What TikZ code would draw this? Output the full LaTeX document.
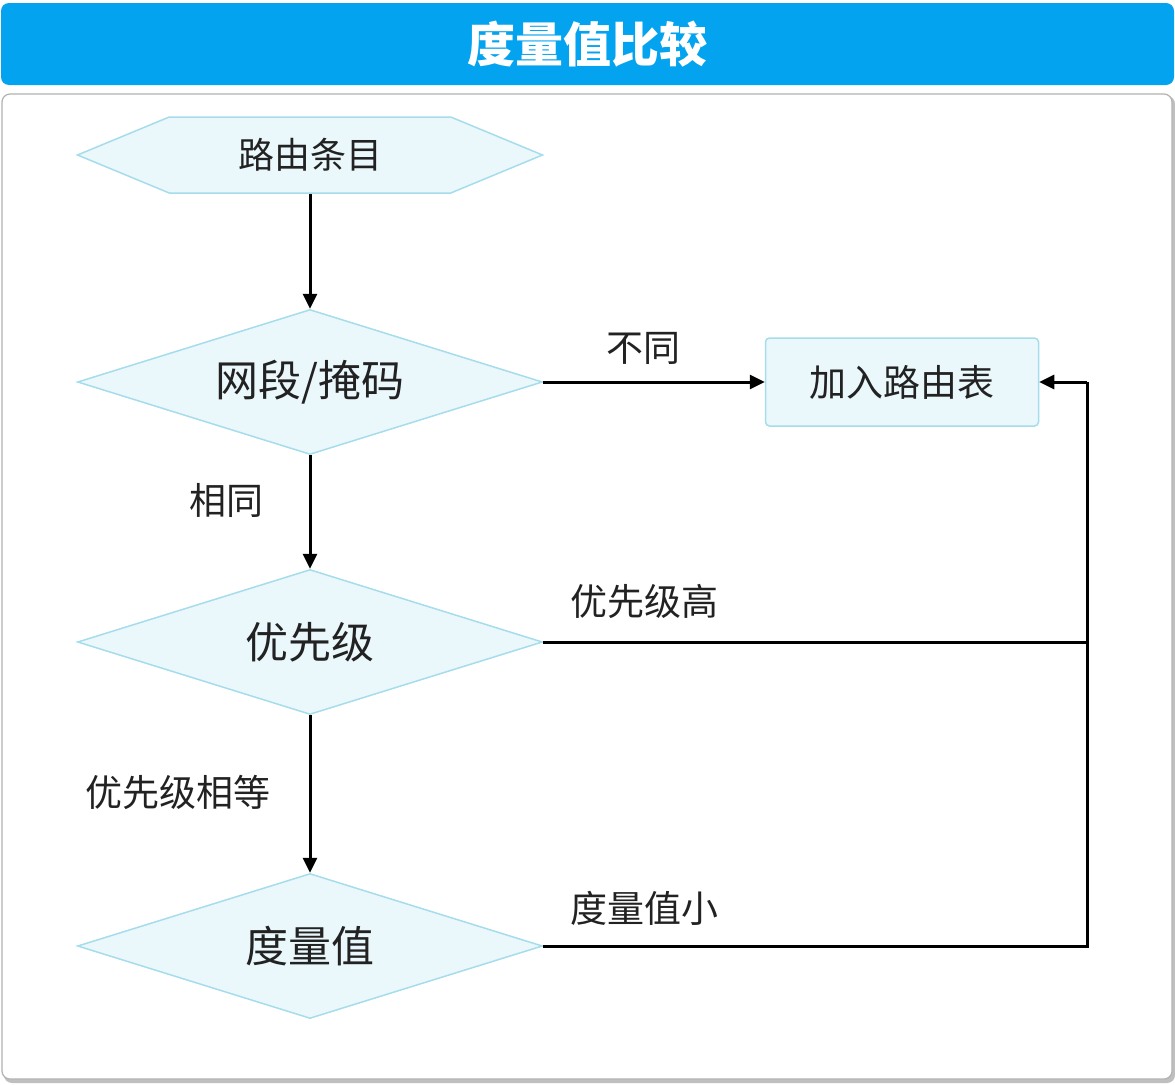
\documentclass[tikz,border=0pt]{standalone}
\usepackage{fontspec}
\setmainfont{Noto Sans CJK SC}
\usetikzlibrary{shapes.geometric,shapes.symbols,arrows.meta}
\definecolor{titleblue}{HTML}{03A3EF}
\definecolor{shapefill}{HTML}{EAF8FC}
\definecolor{shapeline}{HTML}{A6DCEB}
\definecolor{txt}{HTML}{222222}
\tikzset{
  hexbox/.style={signal, signal to=east and west, signal pointer angle=45, draw=shapeline, line width=1.5pt, fill=shapefill, minimum width=465pt, minimum height=76pt, inner sep=0pt, font=\fontsize{36}{40}\selectfont, text=txt},
  decbox/.style={diamond, aspect=3.2, draw=shapeline, line width=1.5pt, fill=shapefill, minimum width=465pt, minimum height=145pt, inner sep=0pt, font=\fontsize{43}{47}\selectfont, text=txt},
  endbox/.style={rectangle, rounded corners=4pt, draw=shapeline, line width=1.5pt, fill=shapefill, minimum width=273pt, minimum height=88pt, inner sep=0pt, font=\fontsize{37}{41}\selectfont, text=txt},
  lbl/.style={font=\fontsize{37}{41}\selectfont, text=txt, inner sep=0pt},
  conn/.style={line width=3pt, draw=black},
  arr/.style={conn, -{Triangle[length=15pt,width=14pt]}}
}
\begin{document}
\begin{tikzpicture}[x=1pt,y=-1pt]
\useasboundingbox (0,0) rectangle (1175,1084);
\fill[white] (0,0) rectangle (1175,1084);
% title bar
\node[fill=titleblue, rounded corners=8pt, minimum width=1173pt, minimum height=82pt, inner sep=0pt, text=white, font=\fontsize{48}{52}\selectfont\bfseries] (title) at (587.5,44) {度量值比较};
% body frame with shadow
\fill[black!25, rounded corners=8pt] (4,96) rectangle (1175,1083);
\draw[black!30, line width=1.2pt, fill=white, rounded corners=8pt] (2,94) rectangle (1172,1079);
% nodes
\node[hexbox] (entry) at (310,155) {路由条目};
\node[decbox] (mask) at (310,382) {网段/掩码};
\node[decbox] (prio) at (310,642) {优先级};
\node[decbox] (metric) at (310,946) {度量值};
\node[endbox] (add) at (902,382) {加入路由表};
\coordinate (cA) at (1087,382);
\coordinate (cP) at (1087,642);
\coordinate (cM) at (1087,946);
% connectors
\draw[arr] (entry.south) -- (mask.north);
\draw[arr] (mask.south) -- (prio.north);
\draw[arr] (prio.south) -- (metric.north);
\draw[arr] (mask.east) -- (add.west);
\draw[conn] (prio.east) -- (cP);
\draw[conn] (metric.east) -- (cM) -- (cA);
\draw[arr] (cA) -- (add.east);
% labels
\node[lbl] (l1) at (643,348) {不同};
\node[lbl] (l2) at (226,500) {相同};
\node[lbl] (l3) at (644,601) {优先级高};
\node[lbl] (l4) at (178,792) {优先级相等};
\node[lbl] (l5) at (644,908) {度量值小};
\end{tikzpicture}
\end{document}
